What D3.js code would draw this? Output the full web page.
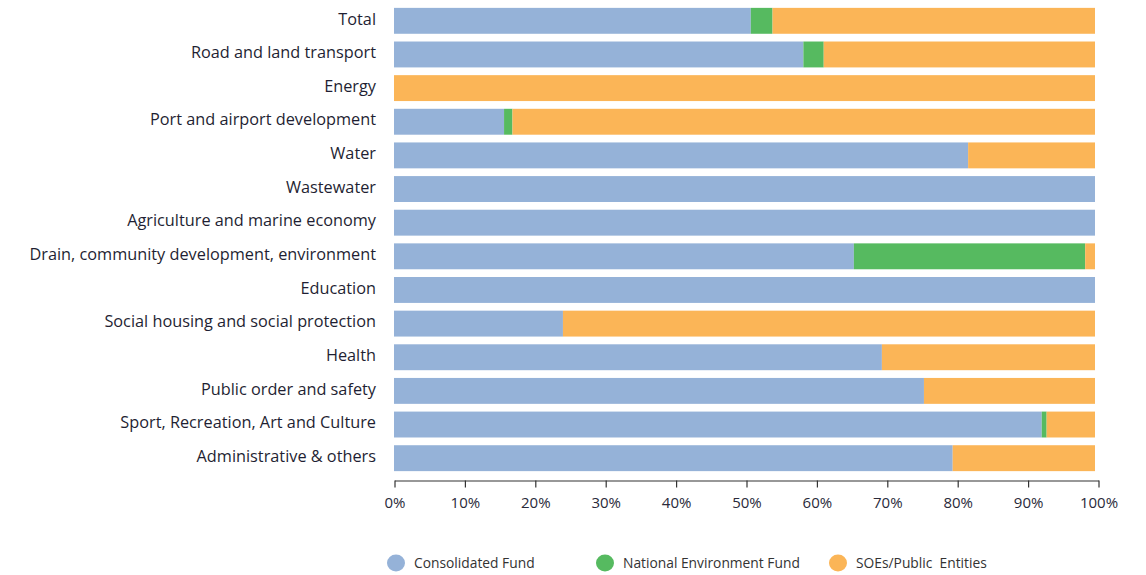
<!DOCTYPE html>
<html>
<head>
<meta charset="utf-8">
<script src="https://cdn.jsdelivr.net/npm/d3@7/dist/d3.min.js"></script>
<style>
  html, body { margin: 0; padding: 0; background: #fff; }
  svg { display: block; }
</style>
</head>
<body>
<svg id="chart" width="1146" height="575"></svg>
<script>
const categories = [
  "Total",
  "Road and land transport",
  "Energy",
  "Port and airport development",
  "Water",
  "Wastewater",
  "Agriculture and marine economy",
  "Drain, community development, environment",
  "Education",
  "Social housing and social protection",
  "Health",
  "Public order and safety",
  "Sport, Recreation, Art and Culture",
  "Administrative & others"
];
const seriesNames = ["Consolidated Fund", "National Environment Fund", "SOEs/Public  Entities"];
const consolidatedFund = [50.9, 58.4, 0, 15.7, 81.9, 100, 100, 65.6, 100, 24.1, 69.6, 75.6, 92.4, 79.7];
const nationalEnvFund  = [3.1, 2.9, 0, 1.2, 0, 0, 0, 33.0, 0, 0, 0, 0, 0.7, 0];
const soePublic        = [46.0, 38.7, 100, 83.1, 18.1, 0, 0, 1.4, 0, 75.9, 30.4, 24.4, 6.9, 20.3];
const tickValues = [0, 10, 20, 30, 40, 50, 60, 70, 80, 90, 100];
const colors = ["#95b2d8", "#56ba60", "#fbb557"];

const svg = d3.select("#chart");
const rows = categories.map((c, i) => ({
  cat: c,
  [seriesNames[0]]: consolidatedFund[i],
  [seriesNames[1]]: nationalEnvFund[i],
  [seriesNames[2]]: soePublic[i]
}));
const stack = d3.stack().keys(seriesNames)(rows);

const x = d3.scaleLinear().domain([0, 100]).range([394, 1095]);
const y = d3.scaleBand().domain(categories).range([4, 475]).paddingInner(0.23).paddingOuter(0.115);

const g = svg.append("g");
stack.forEach((layer, si) => {
  g.append("g").attr("fill", colors[si])
    .selectAll("rect").data(layer).join("rect")
    .attr("x", d => x(d[0]))
    .attr("y", d => y(d.data.cat))
    .attr("width", d => Math.max(0, x(d[1]) - x(d[0])))
    .attr("height", y.bandwidth());
});

// category labels
svg.append("g").selectAll("text").data(categories).join("text")
  .attr("x", 376)
  .attr("y", d => y(d) + y.bandwidth() / 2 - 2)
  .attr("dy", "0.35em")
  .attr("text-anchor", "end")
  .attr("font-family", "'Open Sans', sans-serif")
  .attr("font-size", "16.3px")
  .attr("fill", "#1f1f33")
  .text(d => d);

// x axis
const xAxisScale = d3.scaleLinear().domain([0, 100]).range([394.5, 1098.5]);
const axis = svg.append("g").attr("transform", "translate(0,480.5)")
  .call(d3.axisBottom(xAxisScale).tickValues(tickValues).tickFormat(d => d + "%").tickSize(7).tickSizeOuter(0));
axis.select(".domain").attr("stroke", "#333").attr("stroke-width", 1.2);
axis.selectAll(".tick line").attr("stroke", "#333").attr("stroke-width", 1.2);
axis.selectAll(".tick text")
  .attr("y", 17)
  .attr("font-family", "'Open Sans', sans-serif")
  .attr("font-size", "15px")
  .attr("fill", "#2a2a3a");

// legend
const legendX = [396, 605, 838];
const legend = svg.append("g").selectAll("g").data(seriesNames).join("g")
  .attr("transform", (d, i) => `translate(${legendX[i]},563)`);
legend.append("ellipse").attr("rx", 9).attr("ry", 8.5).attr("fill", (d, i) => colors[i]);
legend.append("text")
  .attr("x", 18).attr("dy", "0.35em")
  .attr("font-family", "'Open Sans', sans-serif")
  .attr("font-size", "13.8px")
  .attr("fill", "#333")
  .attr("xml:space", "preserve")
  .style("white-space", "pre")
  .text(d => d);
</script>
</body>
</html>
